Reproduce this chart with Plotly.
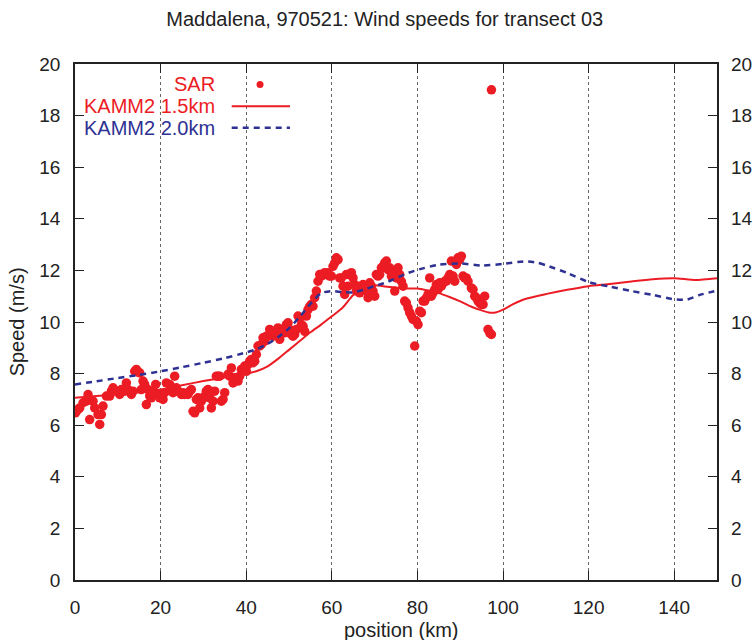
import plotly.graph_objects as go

# SAR-derived wind speed along the transect
sar_km = [0.10, 0.32, 0.71, 1.10, 1.88, 2.66, 3.05, 3.43, 4.21, 4.60, 5.38, 5.77, 6.16, 6.55,
          7.33, 8.11, 8.50, 8.89, 9.66, 10.44, 10.83, 11.61, 12.00, 12.39, 13.17, 13.56, 13.95,
          14.34, 15.11, 15.50, 15.89, 16.28, 16.67, 17.06, 17.45, 17.84, 18.23, 18.85, 19.40,
          19.79, 20.57, 20.96, 21.35, 22.13, 22.52, 22.90, 23.29, 23.68, 24.07, 24.85, 25.24,
          25.63, 26.41, 26.80, 27.19, 27.58, 27.97, 28.36, 28.74, 29.13, 29.52, 29.91, 30.30,
          30.69, 31.08, 31.47, 31.86, 32.25, 32.64, 33.03, 33.42, 33.81, 34.20, 34.59, 34.98,
          35.75, 36.14, 36.53, 36.92, 37.31, 37.70, 38.09, 38.48, 38.87, 39.26, 39.65, 40.04,
          40.43, 40.82, 41.21, 41.60, 41.99, 42.38, 42.76, 43.15, 43.54, 43.93, 44.32, 44.71,
          45.10, 45.49, 45.88, 46.27, 46.66, 47.44, 47.83, 48.22, 48.61, 48.99, 49.38, 49.77,
          50.16, 50.55, 50.94, 51.33, 51.72, 52.11, 52.50, 52.89, 53.28, 53.67, 54.06, 54.45,
          54.84, 55.23, 55.61, 56.00, 56.39, 56.78, 57.17, 57.56, 57.95, 58.34, 58.73, 59.12,
          59.51, 59.90, 60.29, 60.68, 61.07, 61.46, 61.84, 62.23, 62.62, 63.01, 63.40, 63.79,
          64.18, 64.57, 64.96, 65.35, 65.74, 66.13, 66.52, 66.91, 67.30, 67.69, 68.08, 68.47,
          68.85, 69.24, 69.63, 70.02, 70.41, 70.80, 71.19, 71.58, 71.97, 72.36, 72.75, 73.14,
          73.53, 73.92, 74.31, 74.70, 75.09, 75.48, 75.87, 76.25, 76.64, 77.03, 77.42, 77.81,
          78.20, 78.59, 78.98, 79.37, 79.76, 80.15, 80.54, 80.93, 81.32, 81.71, 82.10, 82.49,
          82.87, 83.26, 83.65, 84.04, 84.43, 84.82, 85.21, 85.60, 85.99, 86.38, 86.77, 87.16,
          87.55, 87.94, 88.33, 88.72, 89.11, 89.49, 89.88, 90.27, 90.66, 91.05, 91.44, 91.83,
          92.61, 93.00, 93.39, 93.78, 94.17, 94.56, 94.95, 95.34, 95.72, 96.50, 96.89, 97.28,
          97.30]
sar_speed = [6.48, 6.54, 6.61, 6.67, 6.87, 6.93, 7.19, 6.22, 6.93, 6.67, 6.41, 6.03, 6.41, 6.74,
             7.13, 7.13, 7.32, 7.45, 7.32, 7.19, 7.38, 7.32, 7.64, 7.38, 7.19, 7.32, 8.09,
             8.16, 8.03, 7.38, 7.71, 7.58, 6.80, 7.38, 7.13, 7.06, 7.32, 7.58, 7.19,
             7.06, 7.00, 7.26, 7.64, 7.58, 7.38, 7.26, 7.90, 7.45, 7.32, 7.19, 7.26,
             7.19, 7.19, 7.32, 7.38, 6.54, 6.48, 7.00, 7.06, 6.67, 6.93, 7.06, 7.13,
             7.32, 7.38, 7.06, 6.67, 6.93, 7.32, 7.90, 7.90, 7.90, 6.93, 7.00, 7.26,
             7.97, 7.90, 8.22, 7.64, 7.84, 7.84, 7.71, 7.90, 8.16, 8.16, 8.29, 8.09,
             8.35, 8.48, 8.55, 8.42, 8.48, 8.74, 9.07, 9.07, 9.13, 9.39, 9.26, 9.45,
             9.45, 9.71, 9.58, 9.45, 9.64, 9.77, 9.33, 9.58, 9.71, 9.58, 9.90, 9.97,
             9.71, 9.52, 9.45, 9.52, 9.71, 10.23, 10.16, 9.90, 9.84, 9.64, 10.23, 10.48,
             10.61, 10.68, 10.61, 10.94, 11.20, 11.58, 11.84, 11.78, 11.84, 11.91, 11.84, 11.91,
             11.78, 11.78, 12.16, 12.29, 12.49, 12.42, 11.71, 11.71, 11.39, 11.07, 11.84, 11.39,
             11.84, 11.91, 11.71, 11.45, 11.20, 11.32, 11.13, 11.39, 11.45, 11.39, 11.20, 10.94,
             11.52, 11.39, 11.20, 11.00, 11.84, 11.78, 11.84, 12.10, 12.16, 12.29, 12.36, 12.03,
             12.10, 11.78, 11.97, 11.20, 11.71, 12.10, 11.84, 11.58, 11.39, 10.81, 10.74, 10.55,
             10.36, 10.23, 10.10, 9.07, 10.03, 9.90, 10.42, 10.36, 10.81, 10.81, 10.94, 11.07,
             11.71, 11.00, 11.13, 11.26, 11.45, 11.26, 11.52, 11.39, 11.52, 11.58, 11.58, 11.71,
             11.84, 12.36, 11.78, 11.58, 12.23, 12.49, 12.42, 12.55, 11.78, 11.71, 11.71, 11.58,
             11.32, 11.26, 11.00, 10.94, 10.81, 10.74, 10.68, 10.68, 11.00, 9.71, 9.58, 9.52,
             19.00]

# KAMM2 model run, 1.5 km grid
k15_km = [0, 5, 10, 15, 20, 25, 30, 35, 40, 42.5, 45, 47.5, 50, 52.5, 55, 57.5, 60, 62.5,
          65, 67.5, 70, 72.5, 75, 77.5, 80, 82.5, 85, 87.5, 90, 92.5, 95, 97, 98.5, 100,
          102.5, 105, 110, 115, 120, 125, 130, 135, 140, 145, 150]
k15_speed = [7.06, 7.13, 7.20, 7.28, 7.38, 7.55, 7.71, 7.85, 7.99, 8.10, 8.28, 8.58, 8.92,
             9.26, 9.60, 9.90, 10.22, 10.55, 11.05, 11.35, 11.42, 11.38, 11.33, 11.30, 11.30,
             11.22, 11.12, 10.97, 10.80, 10.60, 10.45, 10.36, 10.38, 10.48, 10.70, 10.88,
             11.08, 11.25, 11.39, 11.47, 11.57, 11.66, 11.70, 11.63, 11.70]

# KAMM2 model run, 2.0 km grid
k20_km = [0, 5, 10, 15, 20, 25, 30, 35, 40, 42.5, 45, 47.5, 50, 52.5, 55, 57.5, 60, 62.5,
          65, 67.5, 70, 72.5, 75, 77.5, 80, 85, 90, 95, 100, 105, 108, 110, 115, 120, 125,
          130, 135, 140, 143, 146, 150]
k20_speed = [7.58, 7.70, 7.83, 7.95, 8.09, 8.25, 8.42, 8.60, 8.82, 8.95, 9.15, 9.42, 9.75,
             10.20, 10.70, 11.12, 11.20, 11.16, 11.15, 11.25, 11.40, 11.52, 11.70, 11.88,
             12.02, 12.22, 12.27, 12.19, 12.25, 12.35, 12.30, 12.20, 11.90, 11.55, 11.37,
             11.20, 11.05, 10.88, 10.87, 11.05, 11.22]

x_ticks = [0, 20, 40, 60, 80, 100, 120, 140]
y_ticks = [0, 2, 4, 6, 8, 10, 12, 14, 16, 18, 20]

RED = "#ec1c24"
BLUE = "#2e3192"
INK = "#222222"
FONT = "Liberation Sans, Arial, sans-serif"

fig = go.Figure()
fig.add_trace(go.Scatter(x=sar_km, y=sar_speed, mode="markers", name="SAR",
                         marker=dict(color=RED, size=9.5, line=dict(width=0))))
fig.add_trace(go.Scatter(x=k15_km, y=k15_speed, mode="lines", name="KAMM2 1.5km",
                         line=dict(color=RED, width=2, shape="spline", smoothing=0.6)))
fig.add_trace(go.Scatter(x=k20_km, y=k20_speed, mode="lines", name="KAMM2 2.0km",
                         line=dict(color=BLUE, width=2.5, dash="6px,5px",
                                   shape="spline", smoothing=0.6)))
# right-hand speed axis
fig.add_trace(go.Scatter(x=[None], y=[None], yaxis="y2", showlegend=False,
                         hoverinfo="skip"))

axis_common = dict(ticks="inside", ticklen=9, tickwidth=1.3, tickcolor=INK,
                   showline=True, linewidth=1.5, linecolor=INK, zeroline=False,
                   automargin=False,
                   tickfont=dict(family=FONT, size=19, color=INK))

fig.update_layout(
    width=753, height=640,
    margin=dict(l=75, r=36, t=64, b=60),
    paper_bgcolor="white", plot_bgcolor="white",
    showlegend=False,
    font=dict(family=FONT, color=INK),
    title=dict(text="Maddalena, 970521: Wind speeds for transect 03",
               x=0.511, xanchor="center", y=0.970, yanchor="middle",
               font=dict(family=FONT, size=20, color=INK)),
    xaxis=dict(range=[0, 150], tickvals=x_ticks, mirror="ticks",
               showgrid=True, gridcolor="#666666", griddash="dot", gridwidth=1,
               ticklabelstandoff=9, **axis_common),
    yaxis=dict(range=[0, 20], tickvals=y_ticks, mirror=True, showgrid=False,
               ticklabelstandoff=9, **axis_common),
    yaxis2=dict(range=[0, 20], tickvals=y_ticks, overlaying="y", side="right",
                matches="y", showgrid=False, ticklabelstandoff=13,
                **{**axis_common, "showline": False}),
)

# axis titles
fig.add_annotation(text="position (km)", xref="paper", yref="paper", x=0.508, y=-0.096,
                   showarrow=False, xanchor="center", yanchor="middle",
                   font=dict(family=FONT, size=20, color=INK))
fig.add_annotation(text="Speed (m/s)", xref="paper", yref="paper", x=-0.089, y=0.501,
                   showarrow=False, textangle=-90, xanchor="center", yanchor="middle",
                   font=dict(family=FONT, size=20, color=INK))

# key: right-aligned labels with their samples to the right
key_rows = [("SAR", RED, 0.9603), ("KAMM2 1.5km", RED, 0.9182), ("KAMM2 2.0km", BLUE, 0.8764)]
for label, colour, ky in key_rows:
    fig.add_annotation(text=label, xref="paper", yref="paper", x=0.2212, y=ky,
                       showarrow=False, xanchor="right", yanchor="middle",
                       font=dict(family=FONT, size=20, color=colour))
fig.add_shape(type="circle", xref="paper", yref="paper", xsizemode="pixel",
              ysizemode="pixel", xanchor=0.2882, yanchor=0.9603,
              x0=-3.5, x1=3.5, y0=-3.5, y1=3.5, fillcolor=RED, line=dict(width=0))
fig.add_shape(type="line", xref="paper", yref="paper", x0=0.2441, x1=0.3349,
              y0=0.9182, y1=0.9182, line=dict(color=RED, width=2))
fig.add_shape(type="line", xref="paper", yref="paper", x0=0.2441, x1=0.3349,
              y0=0.8764, y1=0.8764, line=dict(color=BLUE, width=2.5, dash="6px,5px"))

fig.write_html("out.html")
